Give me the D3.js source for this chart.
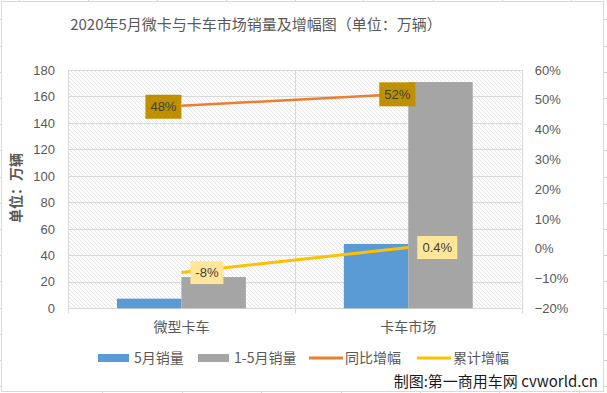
<!DOCTYPE html>
<html><head><meta charset="utf-8">
<script src="https://cdn.jsdelivr.net/npm/d3@7"></script>
<style>
html,body{margin:0;padding:0;background:#fff;}
svg{display:block;font-family:"Liberation Sans","Noto Sans CJK SC",sans-serif;}
</style></head>
<body><svg id="c" width="607" height="393"></svg>
<script>
const categories = ["微型卡车", "卡车市场"];
const seriesNames = ["5月销量", "1-5月销量", "同比增幅", "累计增幅"];
const mayVolume = [7.3, 48.6];
const janMayVolume = [23.6, 170.9];
const yoyGrowth = [0.48, 0.52];
const cumGrowth = [-0.08, 0.004];
const yoyLabels = ["48%", "52%"];
const cumLabels = ["-8%", "0.4%"];
const leftTicks = [0, 20, 40, 60, 80, 100, 120, 140, 160, 180];
const rightTicks = [-0.2, -0.1, 0, 0.1, 0.2, 0.3, 0.4, 0.5, 0.6];
const title = "2020年5月微卡与卡车市场销量及增幅图（单位：万辆）";
const yTitle = "单位：万辆";
const credit = "制图:第一商用车网 cvworld.cn";

const svg = d3.select("#c");
const plot = {l: 68, r: 521.7, t: 70, b: 308.3};
const txt = "#595959", grid = "#d9d9d9";

// faint spreadsheet cell lines outside chart
const deco = svg.append("g").attr("stroke", "#d4d4d4").attr("stroke-width", 1);
[19, 88, 157, 226, 295, 363, 433, 502, 571].forEach(x => deco.append("line").attr("x1", x + .5).attr("x2", x + .5).attr("y1", 0).attr("y2", 1));
[102, 182, 261, 341, 420, 499, 579].forEach(x => deco.append("line").attr("x1", x + .5).attr("x2", x + .5).attr("y1", 392).attr("y2", 393));
d3.range(0, 15).forEach(k => { const y = Math.round(19.3 + k * 26.2) + .5; deco.append("line").attr("x1", 0).attr("x2", 1).attr("y1", y).attr("y2", y); deco.append("line").attr("x1", 604).attr("x2", 607).attr("y1", y).attr("y2", y); });

// chart border
svg.append("rect").attr("x", 1.5).attr("y", 1.5).attr("width", 602).attr("height", 390)
  .attr("fill", "#fff").attr("stroke", grid).attr("stroke-width", 1);

// hatch pattern
const defs = svg.append("defs");
const pat = defs.append("pattern").attr("id", "hatch").attr("patternUnits", "userSpaceOnUse")
  .attr("width", 4).attr("height", 4);
pat.append("path").attr("d", "M-1,-1 L5,5 M-1,3 L1,5 M3,-1 L5,1").attr("stroke", "#e0e0e0").attr("stroke-width", 0.8);

const x = d3.scaleBand().domain(categories).range([plot.l, plot.r]).paddingInner(0).paddingOuter(0);
const xs = d3.scaleBand().domain(seriesNames.slice(0, 2)).range([0, x.bandwidth()]).paddingInner(0).paddingOuter(0.76);
const yL = d3.scaleLinear().domain([0, 180]).range([plot.b, plot.t]);
const yR = d3.scaleLinear().domain([-0.2, 0.6]).range([plot.b, plot.t]);

svg.append("rect").attr("x", plot.l).attr("y", plot.t).attr("width", plot.r - plot.l).attr("height", plot.b - plot.t)
  .attr("fill", "url(#hatch)");

// horizontal gridlines
svg.append("g").selectAll("line").data(leftTicks).join("line")
  .attr("x1", plot.l).attr("x2", plot.r)
  .attr("y1", d => Math.round(yL(d)) + .5).attr("y2", d => Math.round(yL(d)) + .5)
  .attr("stroke", grid).attr("stroke-width", 1);
// vertical gridlines at category boundaries (with ticks)
const bounds = categories.map(c => x(c)).concat([x(categories[categories.length - 1]) + x.bandwidth()]);
svg.append("g").selectAll("line").data(bounds).join("line")
  .attr("x1", d => Math.round(d) + .5).attr("x2", d => Math.round(d) + .5)
  .attr("y1", plot.t).attr("y2", plot.b + 5)
  .attr("stroke", grid).attr("stroke-width", 1);

// bars
const barData = [];
categories.forEach((c, i) => {
  barData.push({c, s: seriesNames[0], v: mayVolume[i], col: "#5B9BD5"});
  barData.push({c, s: seriesNames[1], v: janMayVolume[i], col: "#A5A5A5"});
});
svg.append("g").selectAll("rect").data(barData).join("rect")
  .attr("x", d => x(d.c) + xs(d.s)).attr("width", xs.bandwidth())
  .attr("y", d => yL(d.v)).attr("height", d => yL(0) - yL(d.v))
  .attr("fill", d => d.col);

// left axis
const axL = svg.append("g").attr("transform", `translate(${plot.l},0)`)
  .call(d3.axisLeft(yL).tickValues(leftTicks).tickSize(0).tickPadding(13));
axL.select(".domain").remove();
axL.selectAll("text").attr("fill", txt).style("font-size", "13px").style("font-family", "Liberation Sans, sans-serif");
// right axis
const axR = svg.append("g").attr("transform", `translate(${plot.r},0)`)
  .call(d3.axisRight(yR).tickValues(rightTicks).tickFormat(d3.format(".0%")).tickSize(0).tickPadding(13));
axR.select(".domain").remove();
axR.selectAll("text").attr("fill", txt).style("font-size", "13px").style("font-family", "Liberation Sans, sans-serif");
// bottom axis
const axB = svg.append("g").attr("transform", `translate(0,${plot.b})`)
  .call(d3.axisBottom(x).tickSize(0).tickPadding(14));
axB.select(".domain").remove();
axB.selectAll("text").attr("fill", txt).style("font-size", "14px").style("font-family", "Noto Sans CJK SC, sans-serif");

// lines
const cx = c => x(c) + x.bandwidth() / 2;
const line = d3.line().x(d => cx(d.c)).y(d => yR(d.v));
const yoyPts = categories.map((c, i) => ({c, v: yoyGrowth[i]}));
const cumPts = categories.map((c, i) => ({c, v: cumGrowth[i]}));
svg.append("path").datum(yoyPts).attr("d", line).attr("fill", "none").attr("stroke", "#ED7D31").attr("stroke-width", 2.5);
svg.append("path").datum(cumPts).attr("d", line).attr("fill", "none").attr("stroke", "#FFC000").attr("stroke-width", 3);

// data labels
function label(px, py, text, fill, dx, w, h) {
  const g = svg.append("g");
  g.append("rect").attr("x", px + dx).attr("y", py - h / 2).attr("width", w).attr("height", h).attr("fill", fill);
  g.append("text").attr("x", px + dx + w / 2).attr("y", py).attr("dy", "0.36em").attr("text-anchor", "middle")
    .attr("fill", "#404040").style("font-size", "13px").text(text);
}
label(cx(categories[0]), yR(yoyGrowth[0]) + 1, yoyLabels[0], "#BF9000", -36, 36, 24);
label(cx(categories[1]), yR(yoyGrowth[1]) + 0.5, yoyLabels[1], "#BF9000", -29, 36, 24);
label(cx(categories[0]), yR(cumGrowth[0]), cumLabels[0], "#FFE699", 9, 33, 23);
label(cx(categories[1]), yR(cumGrowth[1]), cumLabels[1], "#FFE699", 9, 40, 23);

// title
svg.append("text").attr("x", 256).attr("y", 25).attr("dy", "0.36em").attr("text-anchor", "middle")
  .attr("fill", txt).style("font-size", "15px").style("font-family", "Noto Sans CJK SC, sans-serif").text(title);
// y axis title
svg.append("text").attr("transform", "translate(16,188) rotate(-90)").attr("text-anchor", "middle").attr("dy", "0.36em")
  .attr("fill", txt).style("font-size", "14px").style("font-weight", "bold").style("font-family", "Noto Sans CJK SC, sans-serif").text(yTitle);

// legend
const leg = svg.append("g").style("font-size", "14px").style("font-family", "Noto Sans CJK SC, sans-serif");
const legItems = [
  {name: seriesNames[0], col: "#5B9BD5", type: "bar", x: 98},
  {name: seriesNames[1], col: "#A5A5A5", type: "bar", x: 198},
  {name: seriesNames[2], col: "#ED7D31", type: "line", x: 309},
  {name: seriesNames[3], col: "#FFC000", type: "line", x: 417}
];
const ly = 358;
legItems.forEach(it => {
  if (it.type === "bar") leg.append("rect").attr("x", it.x).attr("y", ly - 4).attr("width", 31).attr("height", 8).attr("fill", it.col);
  else leg.append("line").attr("x1", it.x).attr("x2", it.x + 34).attr("y1", ly).attr("y2", ly).attr("stroke", it.col).attr("stroke-width", 3);
  leg.append("text").attr("x", it.x + 36).attr("y", ly).attr("dy", "0.36em").attr("fill", txt).text(it.name);
});

// credit
svg.append("text").attr("x", 598).attr("y", 382).attr("dy", "0.36em").attr("text-anchor", "end")
  .attr("fill", "#1a1a1a").style("font-size", "15px").style("font-family", "Noto Sans CJK SC, sans-serif").text(credit);
</script></body></html>
